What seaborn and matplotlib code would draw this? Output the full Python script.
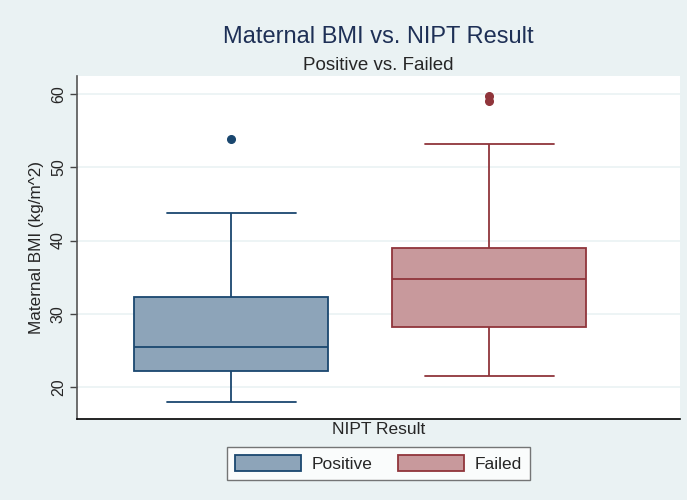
import pandas as pd
import matplotlib
matplotlib.use("Agg")
import matplotlib.pyplot as plt
from matplotlib.patches import Patch
import seaborn as sns

# Werte (Quartile, Whisker, Ausreisser)
positive_bmi = [17.9, 20.0, 22.2, 24.0, 25.4, 29.0, 32.3, 43.7, 53.9]
failed_bmi = [21.5, 24.0, 26.0, 28.2, 30.0, 32.0, 34.7, 36.0, 37.5, 39.0, 53.2, 59.0, 59.7]
groups = ["Positive", "Failed"]
y_ticks = [20, 30, 40, 50, 60]

navy = "#1a476f"
maroon = "#90353b"
navy_fill = "#8da4b9"
maroon_fill = "#c8999c"
bg = "#eaf2f3"

df = pd.DataFrame({
    "result": ["Positive"] * len(positive_bmi) + ["Failed"] * len(failed_bmi),
    "bmi": positive_bmi + failed_bmi,
})
df["x"] = "NIPT"

sns.set_style("white")
plt.rcParams["font.family"] = ["Liberation Sans", "DejaVu Sans"]

fig = plt.figure(figsize=(6.87, 5), dpi=100, facecolor=bg)
ax = fig.add_axes([77 / 687, 81 / 500, 603 / 687, 343 / 500])
ax.set_facecolor("white")

edges = {"Positive": navy, "Failed": maroon}
fills = {"Positive": navy_fill, "Failed": maroon_fill}

# eine Box pro Gruppe, damit jede ihre eigene Linienfarbe bekommt
for g in groups:
    sub = df[df["result"] == g]
    sns.boxplot(
        data=sub, x="x", y="bmi", hue="result", hue_order=groups,
        palette=fills, dodge=True, width=0.8, gap=0.245, ax=ax,
        linecolor=edges[g], linewidth=1.3, legend=False,
        flierprops=dict(marker="o", markersize=5.5, markerfacecolor=edges[g],
                        markeredgecolor=edges[g]),
        whis=1.5, saturation=1, capwidths=0.2,
    )

ax.set_xlim(-0.4388, 0.496)
ax.set_ylim(15.63, 62.46)
ax.set_yticks(y_ticks)
ax.set_yticklabels([str(t) for t in y_ticks], rotation=90, va="center", fontsize=11.5)
ax.set_xticks([])
ax.grid(axis="y", color=bg, linewidth=1.2)
ax.set_axisbelow(True)
ax.tick_params(axis="y", length=5, width=1, color="#444444", left=True, pad=3)

for s in ["top", "right"]:
    ax.spines[s].set_visible(False)
ax.spines["left"].set_color("#555555")
ax.spines["bottom"].set_color("black")
ax.spines["left"].set_linewidth(1.2)
ax.spines["bottom"].set_linewidth(1.2)

ax.set_ylabel("Maternal BMI (kg/m^2)", fontsize=12.3, labelpad=5)
ax.set_xlabel("NIPT Result", fontsize=12.5, labelpad=2.5)

fig.text(0.551, 0.926, "Maternal BMI vs. NIPT Result", ha="center", va="center",
         fontsize=17, color="#1e3056")
fig.text(0.551, 0.869, "Positive vs. Failed", ha="center", va="center", fontsize=13.5)

handles = [Patch(facecolor=fills[g], edgecolor=edges[g], linewidth=1.3, label=g) for g in groups]
leg = fig.legend(handles=handles, loc="center", bbox_to_anchor=(0.551, 0.073), ncol=2,
                 frameon=True, fancybox=False, fontsize=12.5, handlelength=3.8,
                 handleheight=1.0, handletextpad=0.63, columnspacing=1.44,
                 borderpad=0.45)
leg.get_frame().set_edgecolor("#555555")
leg.get_frame().set_linewidth(1.0)

fig.savefig("out.png", dpi=100, facecolor=bg)
